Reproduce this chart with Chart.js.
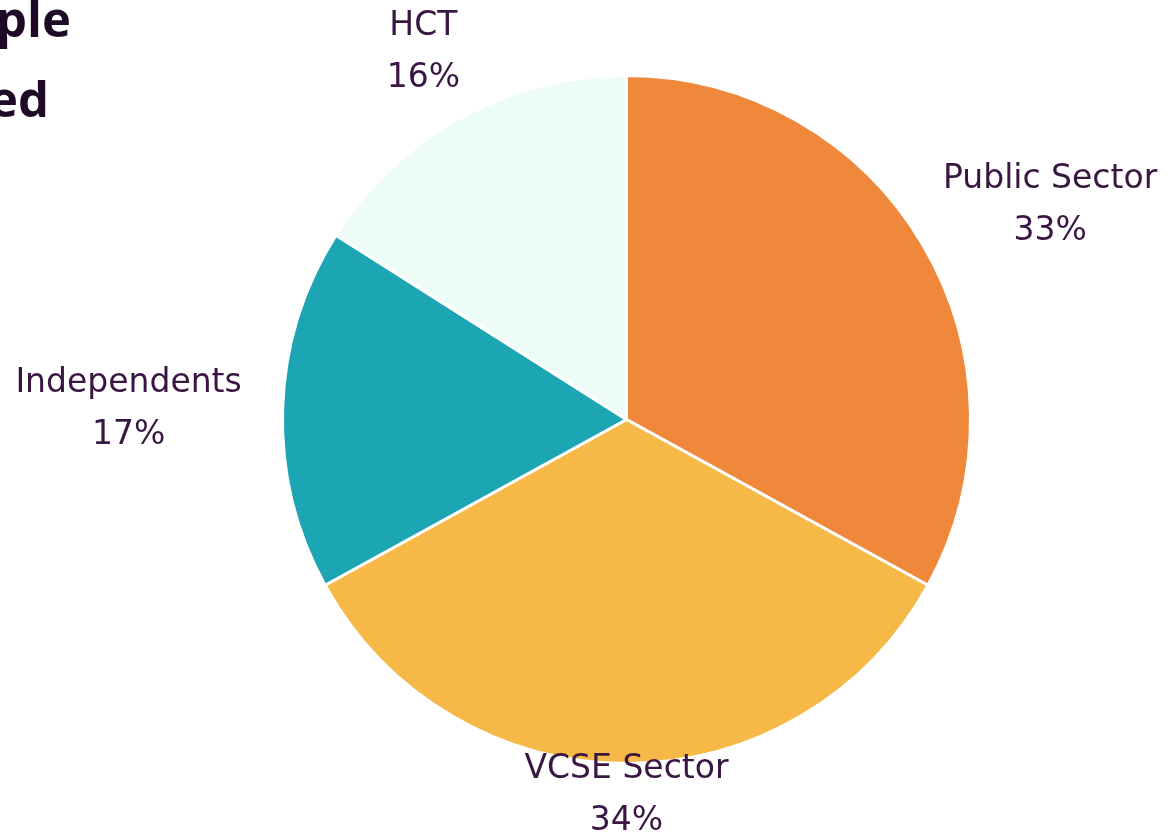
<!DOCTYPE html>
<html>
<head>
<meta charset="utf-8">
<script src="https://cdn.jsdelivr.net/npm/chart.js@4"></script>
<style>
  html, body { margin: 0; padding: 0; background: #ffffff; }
  #wrap { position: relative; width: 1174px; height: 835px; overflow: hidden; }
  .title { position: absolute; font-family: "Open Sans", sans-serif; font-weight: 700; font-size: 49px; line-height: 1; color: #1e0a26; white-space: nowrap; }
</style>
</head>
<body>
<div id="wrap">
  <canvas id="myChart" width="1174" height="835"></canvas>
  <!-- Tiêu đề bị cắt ở góc trái -->
  <div class="title" style="right:1103px; top:-6px;">ple</div>
  <div class="title" style="right:1125px; top:74px;">ed</div>
</div>
<script>
// Dữ liệu biểu đồ
var categories = ['Public Sector', 'VCSE Sector', 'Independents', 'HCT'];
var shares = [33, 34, 17, 16];
var sliceColors = ['#F0883C', '#F6B846', '#1CA6B4', '#EDFCF6'];

// Plugin vẽ nhãn bên ngoài mỗi lát bánh
var outsideLabels = {
    id: 'outsideLabels',
    afterDatasetsDraw: function (chart) {
        var ctx = chart.ctx;
        var meta = chart.getDatasetMeta(0);
        var total = shares.reduce(function (a, b) { return a + b; }, 0);
        ctx.save();
        ctx.font = '33px "DejaVu Sans", sans-serif';
        ctx.fillStyle = '#3a1742';
        ctx.textAlign = 'center';
        ctx.textBaseline = 'middle';
        meta.data.forEach(function (arc, i) {
            var p = arc.getProps(['x', 'y', 'startAngle', 'endAngle', 'outerRadius'], true);
            var mid = (p.startAngle + p.endAngle) / 2;
            var dx = Math.cos(mid), dy = Math.sin(mid);
            var name = categories[i];
            var pct = Math.round(shares[i] / total * 100) + '%';
            var w = Math.max(ctx.measureText(name).width, ctx.measureText(pct).width);
            var h = 82;
            var r = p.outerRadius + 41;
            var cx = p.x + dx * r + dx * w / 2;
            var cy = p.y + dy * r + dy * h / 2;
            // Giữ nhãn trong khung
            cy = Math.min(Math.max(cy, h / 2 + 8), chart.height - h / 2 - 2);
            cy += 3; // bù lệch đường cơ sở của font
            ctx.fillText(name, cx, cy - 26);
            ctx.fillText(pct, cx, cy + 26);
        });
        ctx.restore();
    }
};

new Chart(document.getElementById('myChart'), {
    type: 'pie',
    data: {
        labels: categories,
        datasets: [{
            data: shares,
            backgroundColor: sliceColors,
            borderColor: '#ffffff',
            borderWidth: 3
        }]
    },
    options: {
        responsive: false,
        animation: false,
        layout: { padding: { left: 281, right: 202, top: 74, bottom: 70 } },
        plugins: {
            legend: { display: false },
            tooltip: { enabled: false }
        }
    },
    plugins: [outsideLabels]
});
</script>
</body>
</html>
